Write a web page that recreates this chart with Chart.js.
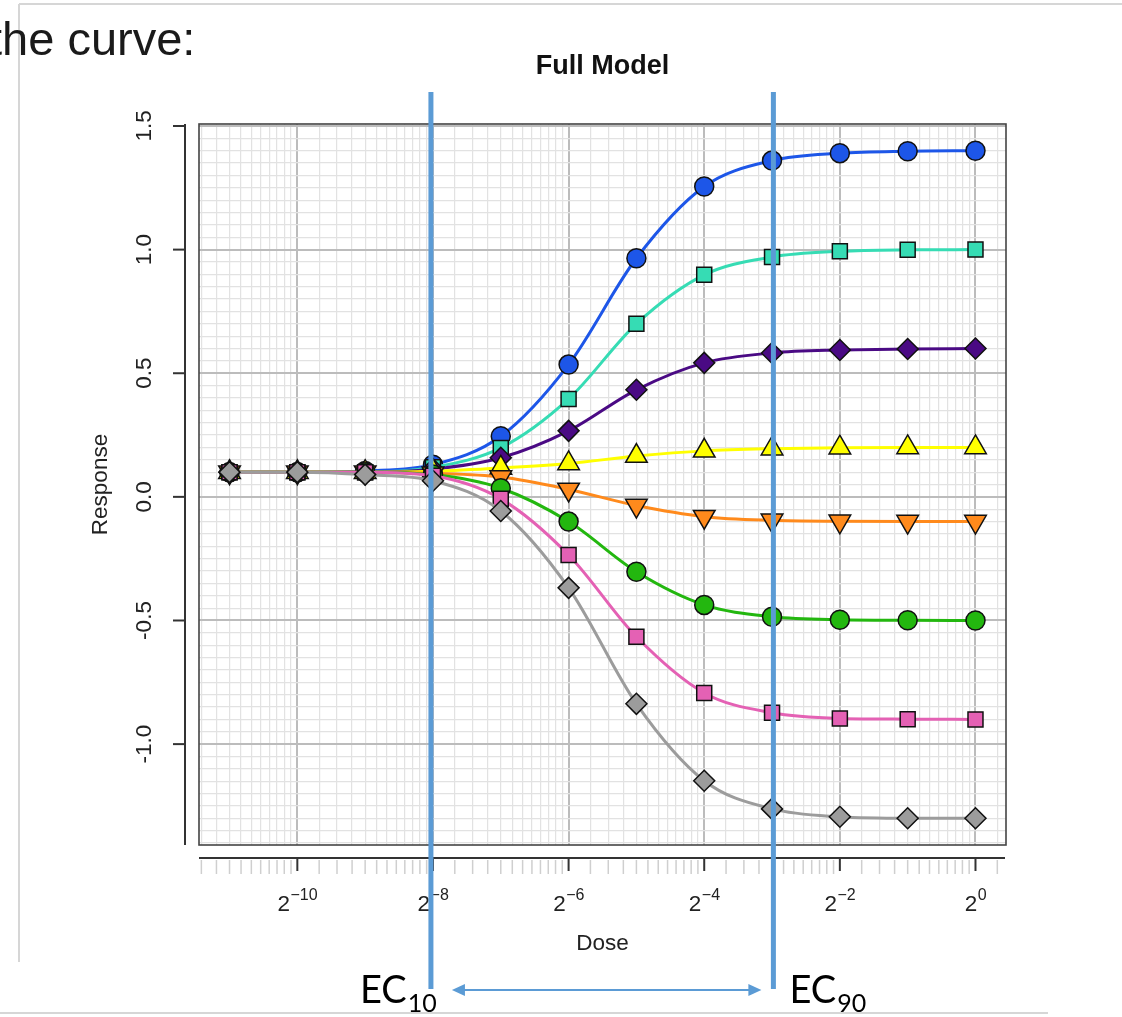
<!DOCTYPE html>
<html>
<head>
<meta charset="utf-8">
<script src="https://cdn.jsdelivr.net/npm/chart.js@4.4.1/dist/chart.umd.min.js"></script>
<style>
  html, body { margin: 0; padding: 0; background: #fff; overflow: hidden; }
  #wrap { position: relative; width: 1122px; height: 1017px; }
  #chart { position: absolute; left: 0; top: 0; }
  #lead { position: absolute; left: -11px; top: 15px; font-family: "Liberation Sans", Arial, sans-serif;
          font-size: 47px; line-height: 47px; color: #1a1a1a; white-space: nowrap; }
</style>
</head>
<body>
<div id="wrap">
  <canvas id="chart" width="1122" height="1017"></canvas>
  <div id="lead">the curve:</div>
</div>
<script>
// dose as log2 exponent: 2^-11 ... 2^0
var doseExp = [-11, -10, -9, -8, -7, -6, -5, -4, -3, -2, -1, 0];
var xTickExp = [-10, -8, -6, -4, -2, 0];
var yTickVals = [-1.0, -0.5, 0.0, 0.5, 1.0, 1.5];
var yTickLabels = ['-1.0', '-0.5', '0.0', '0.5', '1.0', '1.5'];

var blueResp   = [0.10, 0.10, 0.105, 0.13, 0.245, 0.535, 0.965, 1.255, 1.36, 1.39, 1.398, 1.40];
var turqResp   = [0.10, 0.10, 0.10, 0.12, 0.198, 0.396, 0.70, 0.898, 0.97, 0.993, 0.999, 1.00];
var purpleResp = [0.10, 0.10, 0.10, 0.112, 0.158, 0.267, 0.433, 0.542, 0.582, 0.594, 0.598, 0.60];
var yellowResp = [0.10, 0.10, 0.10, 0.104, 0.117, 0.135, 0.165, 0.186, 0.195, 0.199, 0.20, 0.20];
var orangeResp = [0.10, 0.10, 0.10, 0.095, 0.08, 0.03, -0.035, -0.08, -0.095, -0.099, -0.10, -0.10];
var greenResp  = [0.10, 0.10, 0.10, 0.09, 0.035, -0.10, -0.303, -0.437, -0.485, -0.497, -0.499, -0.50];
var pinkResp   = [0.10, 0.10, 0.10, 0.085, -0.008, -0.235, -0.566, -0.793, -0.873, -0.896, -0.899, -0.90];
var grayResp   = [0.10, 0.10, 0.09, 0.065, -0.057, -0.368, -0.837, -1.148, -1.262, -1.294, -1.30, -1.30];

// EC10 / EC90 markers (log2 dose)
var ec10Exp = -8.03;
var ec90Exp = -2.98;

var FONT = '"Liberation Sans", Arial, sans-serif';

function isMajorX(v) { return xTickExp.some(function (t) { return Math.abs(t - v) < 1e-6; }); }
function isMajorY(v) { return Math.abs(v * 2 - Math.round(v * 2)) < 1e-6; }

function makeSet(label, data, color, style, radius, rot) {
  return {
    label: label,
    data: doseExp.map(function (x, i) { return {x: x, y: data[i]}; }),
    borderColor: color,
    backgroundColor: color,
    borderWidth: 3,
    cubicInterpolationMode: 'monotone',
    pointStyle: style,
    pointRadius: radius,
    pointRotation: rot || 0,
    pointBackgroundColor: color,
    pointBorderColor: '#111',
    pointBorderWidth: 1.5
  };
}

var sets = [
  makeSet('blue', blueResp, '#1d56e8', 'circle', 9.5),
  makeSet('turquoise', turqResp, '#36dcb4', 'rect', 10.6),
  makeSet('purple', purpleResp, '#4a0a84', 'rectRot', 10.5),
  makeSet('yellow', yellowResp, '#ffff00', 'triangle', 12.5),
  makeSet('orange', orangeResp, '#ff8a1c', 'triangle', 12.5, 180),
  makeSet('green', greenResp, '#23b70f', 'circle', 9.5),
  makeSet('pink', pinkResp, '#e461b4', 'rect', 10.6),
  makeSet('gray', grayResp, '#9c9c9c', 'rectRot', 10.5)
];
sets.forEach(function (s, i) { s.order = sets.length - i; });

var decor = {
  id: 'decor',
  beforeDraw: function (chart) {
    var ctx = chart.ctx;
    ctx.save();
    ctx.strokeStyle = '#d6d6d6';
    ctx.lineWidth = 2;
    ctx.beginPath();
    ctx.moveTo(19, 4); ctx.lineTo(1122, 4);
    ctx.moveTo(19, 4); ctx.lineTo(19, 962);
    ctx.moveTo(0, 1013); ctx.lineTo(1048, 1013);
    ctx.stroke();
    ctx.restore();
  },
  afterDraw: function (chart) {
    var ctx = chart.ctx, a = chart.chartArea;
    var xs = chart.scales.x, ys = chart.scales.y;
    ctx.save();
    // title
    ctx.fillStyle = '#111';
    ctx.font = 'bold 27px ' + FONT;
    ctx.textAlign = 'center';
    ctx.textBaseline = 'middle';
    ctx.fillText('Full Model', (a.left + a.right) / 2, 67);

    // plot box
    ctx.strokeStyle = '#444';
    ctx.lineWidth = 1.6;
    ctx.strokeRect(a.left, a.top, a.right - a.left, a.bottom - a.top);

    // detached x axis
    var axY = a.bottom + 13;
    xs.ticks.forEach(function (t) {
      var px = xs.getPixelForValue(t.value);
      ctx.beginPath();
      if (isMajorX(t.value)) {
        ctx.strokeStyle = '#333'; ctx.lineWidth = 2;
        ctx.moveTo(px, axY); ctx.lineTo(px, axY + 13);
      } else {
        ctx.strokeStyle = '#cfcfcf'; ctx.lineWidth = 1.5;
        ctx.moveTo(px, axY + 2); ctx.lineTo(px, axY + 16);
      }
      ctx.stroke();
    });
    ctx.strokeStyle = '#333'; ctx.lineWidth = 2;
    ctx.beginPath(); ctx.moveTo(a.left, axY); ctx.lineTo(a.right - 1, axY); ctx.stroke();

    // x tick labels: 2 with superscript exponent
    ctx.fillStyle = '#222';
    ctx.textAlign = 'left';
    ctx.textBaseline = 'alphabetic';
    xTickExp.forEach(function (e) {
      var px = xs.getPixelForValue(e);
      var base = '2', sup = String(e).replace('-', '\u2212');
      ctx.font = '22.5px ' + FONT;
      var wb = ctx.measureText(base).width;
      ctx.font = '16px ' + FONT;
      var ws = ctx.measureText(sup).width;
      var x0 = px - (wb + ws) / 2;
      ctx.font = '22.5px ' + FONT;
      ctx.fillText(base, x0, 911);
      ctx.font = '16px ' + FONT;
      ctx.fillText(sup, x0 + wb + 0.5, 900);
    });

    // detached y axis
    var axX = a.left - 14;
    ctx.strokeStyle = '#333'; ctx.lineWidth = 2;
    ctx.beginPath(); ctx.moveTo(axX, a.top); ctx.lineTo(axX, a.bottom); ctx.stroke();
    ctx.fillStyle = '#222';
    ctx.font = '22.5px ' + FONT;
    ctx.textAlign = 'center';
    ctx.textBaseline = 'middle';
    yTickVals.forEach(function (v, i) {
      var py = ys.getPixelForValue(v);
      ctx.beginPath(); ctx.moveTo(axX, py); ctx.lineTo(axX - 12, py); ctx.stroke();
      ctx.save();
      ctx.translate(axX - 40, py);
      ctx.rotate(-Math.PI / 2);
      ctx.fillText(yTickLabels[i], 0, 0);
      ctx.restore();
    });

    // EC10 / EC90 annotation
    var x10 = xs.getPixelForValue(ec10Exp), x90 = xs.getPixelForValue(ec90Exp);
    ctx.strokeStyle = '#5b9bd5';
    ctx.lineWidth = 5;
    ctx.beginPath();
    ctx.moveTo(x10, 92); ctx.lineTo(x10, 989);
    ctx.moveTo(x90, 92); ctx.lineTo(x90, 989);
    ctx.stroke();
    var ay = 990, l = x10 + 21, r = x90 - 12;
    ctx.lineWidth = 2;
    ctx.beginPath(); ctx.moveTo(l + 8, ay); ctx.lineTo(r - 8, ay); ctx.stroke();
    ctx.fillStyle = '#5b9bd5';
    ctx.beginPath(); ctx.moveTo(l, ay); ctx.lineTo(l + 13, ay - 6); ctx.lineTo(l + 13, ay + 6); ctx.closePath(); ctx.fill();
    ctx.beginPath(); ctx.moveTo(r, ay); ctx.lineTo(r - 13, ay - 6); ctx.lineTo(r - 13, ay + 6); ctx.closePath(); ctx.fill();

    ctx.fillStyle = '#000';
    ctx.textAlign = 'left';
    ctx.textBaseline = 'alphabetic';
    function ecLabel(x, sub) {
      ctx.font = '38px Lato, "Open Sans", sans-serif';
      ctx.fillText('EC', x, 1003);
      var w = ctx.measureText('EC').width;
      ctx.font = '25px Lato, "Open Sans", sans-serif';
      ctx.fillText(sub, x + w + 1, 1012);
    }
    ecLabel(x10 - 71, '10');
    ecLabel(x90 + 16, '90');
    ctx.restore();
  }
};

new Chart(document.getElementById('chart'), {
  type: 'line',
  data: { datasets: sets },
  plugins: [decor],
  options: {
    responsive: false,
    animation: false,
    layout: { padding: { left: 0, right: 116, top: 124, bottom: 0 } },
    plugins: {
      legend: { display: false },
      tooltip: { enabled: false },
      title: { display: false }
    },
    scales: {
      x: {
        type: 'linear',
        min: -11.45,
        max: 0.45,
        afterFit: function (s) { s.height = 172; },
        afterBuildTicks: function (s) {
          var vals = xTickExp.slice();
          for (var j = -12; j <= 0; j += 2) {
            for (var k = 1; k <= 11; k++) {
              var v = Math.log2(Math.pow(2, j) * (1 + 0.25 * k));
              if (v > s.min && v < s.max) vals.push(v);
            }
          }
          vals.sort(function (a, b) { return a - b; });
          s.ticks = vals.map(function (v) { return {value: v}; });
        },
        border: { display: false },
        grid: {
          drawTicks: false,
          color: function (c) { return c.tick && isMajorX(c.tick.value) ? '#bcbcbc' : '#e2e2e2'; },
          lineWidth: function (c) { return c.tick && isMajorX(c.tick.value) ? 2 : 1.2; }
        },
        ticks: { display: false },
        title: {
          display: true,
          text: 'Dose',
          color: '#222',
          font: { family: FONT, size: 22.5, lineHeight: 1.2 },
          padding: { top: 0, bottom: 59.5 }
        }
      },
      y: {
        type: 'linear',
        min: -1.408,
        max: 1.508,
        afterFit: function (s) { s.width = 199; },
        afterBuildTicks: function (s) {
          var vals = [];
          for (var i = -28; i <= 30; i++) vals.push(Math.round(i * 5) / 100);
          s.ticks = vals.map(function (v) { return {value: v}; });
        },
        border: { display: false },
        grid: {
          drawTicks: false,
          color: function (c) { return c.tick && isMajorY(c.tick.value) ? '#bcbcbc' : '#e2e2e2'; },
          lineWidth: function (c) { return c.tick && isMajorY(c.tick.value) ? 2 : 1.2; }
        },
        ticks: { display: false },
        title: {
          display: true,
          text: 'Response',
          color: '#222',
          font: { family: FONT, size: 22.5, lineHeight: 1.2 },
          padding: { top: 87.5, bottom: 0 }
        }
      }
    }
  }
});
</script>
</body>
</html>
